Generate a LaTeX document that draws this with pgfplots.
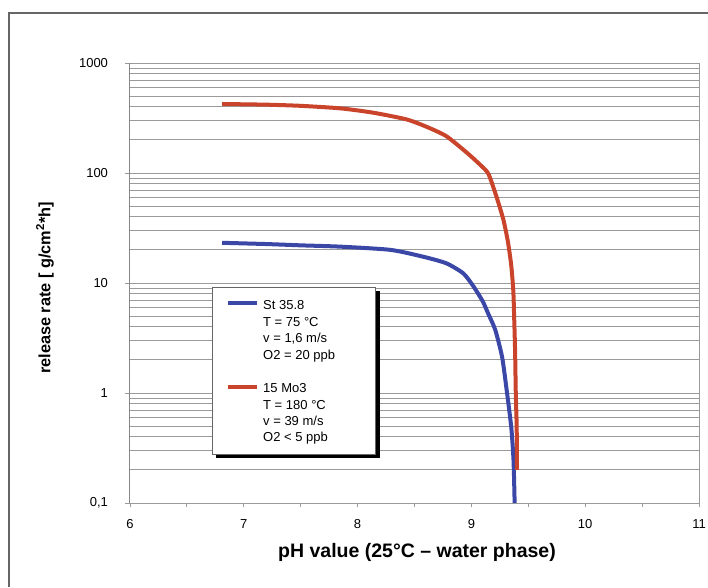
\documentclass[border=0pt]{standalone}
\usepackage{fontspec}
\setmainfont{Liberation Sans}
\usepackage{pgfplots}
\pgfplotsset{compat=1.18}
\definecolor{bl}{HTML}{3A47A6}
\definecolor{rd}{HTML}{C9442B}
\definecolor{gr}{HTML}{9A9A9A}
\begin{document}
\begin{tikzpicture}[x=1pt,y=1pt]
\path[use as bounding box] (-130,-84) rectangle (578,503);
\draw[line width=1.2pt, color=black!60] (-121,-84) -- (-121,490) -- (578,490);
\begin{axis}[at={(0,0)}, anchor=south west, scale only axis,
  width=569pt, height=440pt,
  ymode=log, xmin=6, xmax=11, ymin=0.1, ymax=1000,
  xtick={6,7,8,9,10,11}, xticklabels={6,7,8,9,10,11},
  minor x tick num=1,
  ytick={0.1,1,10,100,1000}, yticklabels={{0,1},1,10,100,1000},
  ymajorgrids, yminorgrids,
  major grid style={gr, line width=1pt},
  minor grid style={gr, line width=1pt},
  axis line style={gr, line width=1pt},
  tick align=outside, major tick length=4.5pt, minor tick length=3.5pt,
  every tick/.style={gr, line width=0.8pt},
  minor y tick style={draw=none},
  xtick pos=bottom, ytick pos=left,
  ticklabel style={font=\fontsize{13}{15}\selectfont},
  yticklabel style={xshift=-14pt},
  xticklabel style={yshift=-8.5pt},
]
\draw[black, line width=1pt] (rel axis cs:0,0) -- (rel axis cs:0,1);
\addplot[bl, line width=4pt, smooth, tension=0.4] coordinates {
(6.81,23.2) (7.2,22.6) (7.5,22.0) (7.85,21.4) (8.29,20.0) (8.58,17.3)
(8.78,15.1) (8.93,12.2) (9.02,9.25) (9.1,6.8) (9.15,5.2) (9.21,3.74)
(9.27,2.12) (9.31,1.06) (9.35,0.49) (9.37,0.246) (9.38,0.1)
};
\addplot[rd, line width=4pt, smooth, tension=0.4] coordinates {
(6.81,424) (7.2,418) (7.5,408) (7.85,387) (8.14,353) (8.43,307)
(8.61,262) (8.78,216) (8.96,153) (9.08,118) (9.15,98) (9.22,61)
(9.28,38) (9.32,24) (9.35,14.5) (9.368,8.6) (9.375,5.2) (9.384,2.4)
(9.39,1.0) (9.398,0.49) (9.40,0.2)
};
\end{axis}
% legend box
\fill[black] (86,45) rectangle (249.5,212);
\filldraw[fill=white, draw=black!60, line width=0.6pt] (82,49) rectangle (245,216);
\draw[bl, line width=4pt] (98,200) -- (127,200);
\draw[rd, line width=4pt] (98,115.7) -- (127,115.7);
\begin{scope}[every node/.style={anchor=base west, inner sep=0pt, font=\fontsize{13}{15}\selectfont}]
\node at (133,193.7) {St 35.8};
\node at (133,176.5) {T = 75 °C};
\node at (133,160.3) {v = 1,6 m/s};
\node at (133,144) {O2 = 20 ppb};
\node at (133,110.3) {15 Mo3};
\node at (133,93.7) {T = 180 °C};
\node at (133,77.7) {v = 39 m/s};
\node at (133,61.7) {O2 < 5 ppb};
\end{scope}
\node[font=\bfseries\fontsize{19.5}{22}\selectfont] at (287,-49) {pH value (25°C – water phase)};
\node[rotate=90, font=\bfseries\fontsize{16.3}{19}\selectfont] at (-85,215) {release rate [ g/cm\textsuperscript{2}*h]};
\end{tikzpicture}
\end{document}
